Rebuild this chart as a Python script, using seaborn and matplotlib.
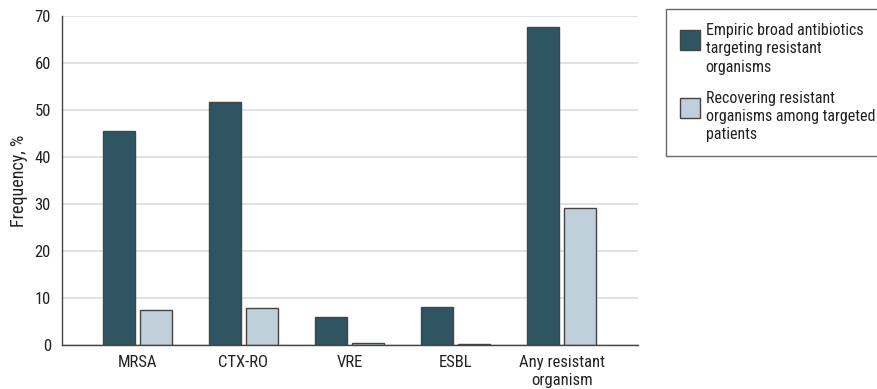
import pandas as pd
import matplotlib.pyplot as plt
from matplotlib.patches import Rectangle
from matplotlib.legend_handler import HandlerPatch
import seaborn as sns

# values
categories = ['MRSA', 'CTX-RO', 'VRE', 'ESBL', 'Any resistant\norganism']
empiric = [45.5, 51.8, 6.0, 8.1, 67.7]
recovered = [7.5, 7.8, 0.4, 0.2, 29.2]
series = ['Empiric broad antibiotics\ntargeting resistant\norganisms',
          'Recovering resistant\norganisms among targeted\npatients']
yticks = [0, 10, 20, 30, 40, 50, 60, 70]

df = pd.DataFrame({
    'category': categories * 2,
    'value': empiric + recovered,
    'series': [series[0]] * len(categories) + [series[1]] * len(categories),
})

sns.set_style('white')
plt.rcParams['font.family'] = ['Roboto Condensed', 'Liberation Sans Narrow', 'Lato', 'DejaVu Sans']
plt.rcParams['font.size'] = 12

fig = plt.figure(figsize=(8.78, 3.89), dpi=100)
ax = fig.add_axes([62 / 878, 44 / 389, 576 / 878, 329 / 389])

sns.barplot(data=df, x='category', y='value', hue='series', ax=ax,
            palette=['#2f5563', '#bfd0da'], width=0.7, gap=0.14,
            edgecolor='#444444', linewidth=1, saturation=1)

ax.set_ylim(0, 70)
ax.set_xlim(-0.71, 4.72)
ax.set_yticks(yticks)
ax.yaxis.grid(True, color='#dddddd', linewidth=1.2)
ax.set_axisbelow(True)
for s in ['top', 'right']:
    ax.spines[s].set_visible(False)
for s in ['left', 'bottom']:
    ax.spines[s].set_color('#444444')
    ax.spines[s].set_linewidth(1)
ax.tick_params(axis='y', length=5, pad=3, color='#444444', colors='#222222', labelsize=12)
ax.tick_params(axis='x', length=0, pad=7, colors='#222222', labelsize=12)
for lbl in ax.get_xticklabels():
    lbl.set_linespacing(1.3)
ax.set_xlabel('')
ax.set_ylabel('Frequency, %', fontsize=13, color='#222222', labelpad=5)


# legend square sits at the top of each multi-line entry
def top_square(legend, orig_handle, xdescent, ydescent, width, height, fontsize):
    return Rectangle((-xdescent, -ydescent + height - width), width, width)


handles, labels = ax.get_legend_handles_labels()
ax.get_legend().remove()
leg = fig.legend(handles, labels, loc='upper left',
                 bbox_to_anchor=(666 / 878, 1 - 9 / 389), borderaxespad=0,
                 frameon=True, fancybox=False, fontsize=11.5,
                 handlelength=1.25, handleheight=3.4, handletextpad=0.38,
                 borderpad=0.85, labelspacing=1.0,
                 handler_map={h: HandlerPatch(patch_func=top_square) for h in handles})
leg.get_frame().set_edgecolor('#444444')
leg.get_frame().set_linewidth(1)
for t in leg.get_texts():
    t.set_linespacing(1.29)
    t.set_color('#222222')

fig.savefig('out.png', dpi=100)
